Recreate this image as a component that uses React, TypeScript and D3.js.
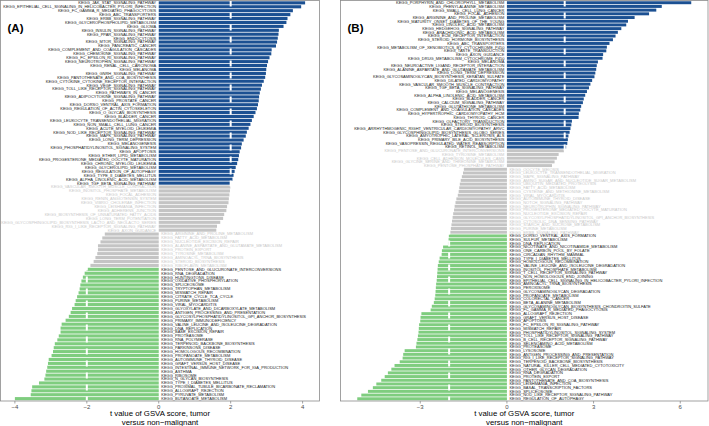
import React from "react";
import * as d3 from "d3";

const W = 709;
const H = 426;

// ---------- Panel A ----------
const pathwaysA: string[] = [
  "KEGG_JAK_STAT_SIGNALING_PATHWAY",
  "KEGG_EPITHELIAL_CELL_SIGNALING_IN_HELICOBACTER_PYLORI_INFECTION",
  "KEGG_FC_GAMMA_R_MEDIATED_PHAGOCYTOSIS",
  "KEGG_ABC_TRANSPORTERS",
  "KEGG_ERBB_SIGNALING_PATHWAY",
  "KEGG_GLYCEROPHOSPHOLIPID_METABOLISM",
  "KEGG_GLIOMA",
  "KEGG_INSULIN_SIGNALING_PATHWAY",
  "KEGG_PPAR_SIGNALING_PATHWAY",
  "KEGG_ENDOCYTOSIS",
  "KEGG_MTOR_SIGNALING_PATHWAY",
  "KEGG_PANCREATIC_CANCER",
  "KEGG_COMPLEMENT_AND_COAGULATION_CASCADES",
  "KEGG_CHEMOKINE_SIGNALING_PATHWAY",
  "KEGG_FC_EPSILON_RI_SIGNALING_PATHWAY",
  "KEGG_NEUROTROPHIN_SIGNALING_PATHWAY",
  "KEGG_RENAL_CELL_CARCINOMA",
  "KEGG_MELANOMA",
  "KEGG_GNRH_SIGNALING_PATHWAY",
  "KEGG_PANTOTHENATE_AND_COA_BIOSYNTHESIS",
  "KEGG_CYTOKINE_CYTOKINE_RECEPTOR_INTERACTION",
  "KEGG_VEGF_SIGNALING_PATHWAY",
  "KEGG_TOLL_LIKE_RECEPTOR_SIGNALING_PATHWAY",
  "KEGG_PATHWAYS_IN_CANCER",
  "KEGG_ADIPOCYTOKINE_SIGNALING_PATHWAY",
  "KEGG_PROSTATE_CANCER",
  "KEGG_DORSO_VENTRAL_AXIS_FORMATION",
  "KEGG_REGULATION_OF_ACTIN_CYTOSKELETON",
  "KEGG_O_GLYCAN_BIOSYNTHESIS",
  "KEGG_BLADDER_CANCER",
  "KEGG_LEUKOCYTE_TRANSENDOTHELIAL_MIGRATION",
  "KEGG_NON_SMALL_CELL_LUNG_CANCER",
  "KEGG_ACUTE_MYELOID_LEUKEMIA",
  "KEGG_NOD_LIKE_RECEPTOR_SIGNALING_PATHWAY",
  "KEGG_MAPK_SIGNALING_PATHWAY",
  "KEGG_LONG_TERM_DEPRESSION",
  "KEGG_MELANOGENESIS",
  "KEGG_PHOSPHATIDYLINOSITOL_SIGNALING_SYSTEM",
  "KEGG_APOPTOSIS",
  "KEGG_ETHER_LIPID_METABOLISM",
  "KEGG_PROGESTERONE_MEDIATED_OOCYTE_MATURATION",
  "KEGG_CHRONIC_MYELOID_LEUKEMIA",
  "KEGG_GLYCEROLIPID_METABOLISM",
  "KEGG_REGULATION_OF_AUTOPHAGY",
  "KEGG_TYPE_II_DIABETES_MELLITUS",
  "KEGG_ALPHA_LINOLENIC_ACID_METABOLISM",
  "KEGG_TGF_BETA_SIGNALING_PATHWAY",
  "KEGG_VASCULAR_SMOOTH_MUSCLE_CONTRACTION",
  "KEGG_INOSITOL_PHOSPHATE_METABOLISM",
  "KEGG_FOCAL_ADHESION",
  "KEGG_RENIN_ANGIOTENSIN_SYSTEM",
  "KEGG_VIBRIO_CHOLERAE_INFECTION",
  "KEGG_LEISHMANIA_INFECTION",
  "KEGG_ADHERENS_JUNCTION",
  "KEGG_BIOSYNTHESIS_OF_UNSATURATED_FATTY_ACIDS",
  "KEGG_LONG_TERM_POTENTIATION",
  "KEGG_GLYCOSPHINGOLIPID_BIOSYNTHESIS_LACTO_AND_NEOLACTO_SERIES",
  "KEGG_RIG_I_LIKE_RECEPTOR_SIGNALING_PATHWAY",
  "KEGG_AXON_GUIDANCE",
  "KEGG_ARGININE_AND_PROLINE_METABOLISM",
  "KEGG_FATTY_ACID_METABOLISM",
  "KEGG_NUCLEOTIDE_EXCISION_REPAIR",
  "KEGG_ALANINE_ASPARTATE_AND_GLUTAMATE_METABOLISM",
  "KEGG_PROTEIN_EXPORT",
  "KEGG_TYROSINE_METABOLISM",
  "KEGG_AMINOACYL_TRNA_BIOSYNTHESIS",
  "KEGG_STEROID_BIOSYNTHESIS",
  "KEGG_RIBOFLAVIN_METABOLISM",
  "KEGG_PENTOSE_AND_GLUCURONATE_INTERCONVERSIONS",
  "KEGG_RNA_DEGRADATION",
  "KEGG_HUNTINGTONS_DISEASE",
  "KEGG_OXIDATIVE_PHOSPHORYLATION",
  "KEGG_SPLICEOSOME",
  "KEGG_TRYPTOPHAN_METABOLISM",
  "KEGG_MISMATCH_REPAIR",
  "KEGG_CITRATE_CYCLE_TCA_CYCLE",
  "KEGG_PURINE_METABOLISM",
  "KEGG_VIRAL_MYOCARDITIS",
  "KEGG_GLYOXYLATE_AND_DICARBOXYLATE_METABOLISM",
  "KEGG_ANTIGEN_PROCESSING_AND_PRESENTATION",
  "KEGG_GLYCOSYLPHOSPHATIDYLINOSITOL_GPI_ANCHOR_BIOSYNTHESIS",
  "KEGG_PRIMARY_IMMUNODEFICIENCY",
  "KEGG_VALINE_LEUCINE_AND_ISOLEUCINE_DEGRADATION",
  "KEGG_DNA_REPLICATION",
  "KEGG_BASE_EXCISION_REPAIR",
  "KEGG_PROTEASOME",
  "KEGG_RNA_POLYMERASE",
  "KEGG_TERPENOID_BACKBONE_BIOSYNTHESIS",
  "KEGG_PARKINSONS_DISEASE",
  "KEGG_HOMOLOGOUS_RECOMBINATION",
  "KEGG_PROPANOATE_METABOLISM",
  "KEGG_AUTOIMMUNE_THYROID_DISEASE",
  "KEGG_GRAFT_VERSUS_HOST_DISEASE",
  "KEGG_INTESTINAL_IMMUNE_NETWORK_FOR_IGA_PRODUCTION",
  "KEGG_ASTHMA",
  "KEGG_RIBOSOME",
  "KEGG_N_GLYCAN_BIOSYNTHESIS",
  "KEGG_TYPE_I_DIABETES_MELLITUS",
  "KEGG_PROXIMAL_TUBULE_BICARBONATE_RECLAMATION",
  "KEGG_ALLOGRAFT_REJECTION",
  "KEGG_PYRUVATE_METABOLISM",
  "KEGG_BUTANOATE_METABOLISM",
];

const tValuesA: number[] = [
  4.07, 3.96, 3.73, 3.66, 3.58, 3.55, 3.47, 3.34, 3.33, 3.31,
  3.29, 3.26, 3.14, 3.13, 3.08, 3.04, 3.01, 2.99, 2.98, 2.96,
  2.92, 2.87, 2.84, 2.81, 2.79, 2.78, 2.76, 2.73, 2.69, 2.64,
  2.59, 2.55, 2.5, 2.45, 2.42, 2.36, 2.31, 2.29, 2.25, 2.23,
  2.21, 2.18, 2.14, 2.11, 2.08, 2.05, 2.01,
  1.99, 1.98, 1.97, 1.95, 1.94, 1.9, 1.88, 1.82, 1.79, 1.71, 1.62, 1.6,
  -1.5, -1.57, -1.62, -1.69, -1.69, -1.71, -1.76, -1.81, -1.9,
  -2.01, -2.06, -2.11, -2.15, -2.18, -2.2, -2.23, -2.27, -2.31, -2.34,
  -2.41, -2.45, -2.5, -2.59, -2.7, -2.73, -2.73, -2.78, -2.82, -2.89,
  -2.92, -2.94, -2.98, -3.06, -3.08, -3.1, -3.13, -3.15, -3.18, -3.33,
  -3.52, -3.54, -3.56, -4.0,
];

const ticksA: number[] = [-4, -2, 0, 2, 4];

// ---------- Panel B ----------
const pathwaysB: string[] = [
  "KEGG_PORPHYRIN_AND_CHLOROPHYLL_METABOLISM",
  "KEGG_PHENYLALANINE_METABOLISM",
  "KEGG_SMALL_CELL_LUNG_CANCER",
  "KEGG_FOCAL_ADHESION",
  "KEGG_ARGININE_AND_PROLINE_METABOLISM",
  "KEGG_MATURITY_ONSET_DIABETES_OF_THE_YOUNG",
  "KEGG_LINOLEIC_ACID_METABOLISM",
  "KEGG_HEDGEHOG_SIGNALING_PATHWAY",
  "KEGG_ARACHIDONIC_ACID_METABOLISM",
  "KEGG_ECM_RECEPTOR_INTERACTION",
  "KEGG_STEROID_HORMONE_BIOSYNTHESIS",
  "KEGG_ABC_TRANSPORTERS",
  "KEGG_METABOLISM_OF_XENOBIOTICS_BY_CYTOCHROME_P450",
  "KEGG_TASTE_TRANSDUCTION",
  "KEGG_AXON_GUIDANCE",
  "KEGG_DRUG_METABOLISM_CYTOCHROME_P450",
  "KEGG_MELANOMA",
  "KEGG_NEUROACTIVE_LIGAND_RECEPTOR_INTERACTION",
  "KEGG_ALANINE_ASPARTATE_AND_GLUTAMATE_METABOLISM",
  "KEGG_LONG_TERM_DEPRESSION",
  "KEGG_GLYCOSAMINOGLYCAN_BIOSYNTHESIS_KERATAN_SULFATE",
  "KEGG_DILATED_CARDIOMYOPATHY",
  "KEGG_VASCULAR_SMOOTH_MUSCLE_CONTRACTION",
  "KEGG_TGF_BETA_SIGNALING_PATHWAY",
  "KEGG_MELANOGENESIS",
  "KEGG_ALPHA_LINOLENIC_ACID_METABOLISM",
  "KEGG_BLADDER_CANCER",
  "KEGG_CALCIUM_SIGNALING_PATHWAY",
  "KEGG_GLUTATHIONE_METABOLISM",
  "KEGG_COMPLEMENT_AND_COAGULATION_CASCADES",
  "KEGG_HYPERTROPHIC_CARDIOMYOPATHY_HCM",
  "KEGG_THYROID_CANCER",
  "KEGG_OLFACTORY_TRANSDUCTION",
  "KEGG_STEROID_BIOSYNTHESIS",
  "KEGG_ARRHYTHMOGENIC_RIGHT_VENTRICULAR_CARDIOMYOPATHY_ARVC",
  "KEGG_GLYCOSPHINGOLIPID_BIOSYNTHESIS_GLOBO_SERIES",
  "KEGG_AMYOTROPHIC_LATERAL_SCLEROSIS_ALS",
  "KEGG_PRIMARY_BILE_ACID_BIOSYNTHESIS",
  "KEGG_VASOPRESSIN_REGULATED_WATER_REABSORPTION",
  "KEGG_RETINOL_METABOLISM",
  "KEGG_PENTOSE_AND_GLUCURONATE_INTERCONVERSIONS",
  "KEGG_TYROSINE_METABOLISM",
  "KEGG_CELL_ADHESION_MOLECULES_CAMS",
  "KEGG_GLYCINE_SERINE_AND_THREONINE_METABOLISM",
  "KEGG_PENTOSE_PHOSPHATE_PATHWAY",
  "KEGG_OOCYTE_MEIOSIS",
  "KEGG_LEUKOCYTE_TRANSENDOTHELIAL_MIGRATION",
  "KEGG_MAPK_SIGNALING_PATHWAY",
  "KEGG_AMINO_SUGAR_AND_NUCLEOTIDE_SUGAR_METABOLISM",
  "KEGG_UBIQUITIN_MEDIATED_PROTEOLYSIS",
  "KEGG_FATTY_ACID_METABOLISM",
  "KEGG_CYSTEINE_AND_METHIONINE_METABOLISM",
  "KEGG_VIRAL_MYOCARDITIS",
  "KEGG_AUTOIMMUNE_THYROID_DISEASE",
  "KEGG_NOTCH_SIGNALING_PATHWAY",
  "KEGG_NEUROTROPHIN_SIGNALING_PATHWAY",
  "KEGG_PROGESTERONE_MEDIATED_OOCYTE_MATURATION",
  "KEGG_NUCLEOTIDE_EXCISION_REPAIR",
  "KEGG_GLYCOSYLPHOSPHATIDYLINOSITOL_GPI_ANCHOR_BIOSYNTHESIS",
  "KEGG_CYTOSOLIC_DNA_SENSING_PATHWAY",
  "KEGG_STARCH_AND_SUCROSE_METABOLISM",
  "KEGG_PURINE_METABOLISM",
  "KEGG_ERBB_SIGNALING_PATHWAY",
  "KEGG_DORSO_VENTRAL_AXIS_FORMATION",
  "KEGG_SULFUR_METABOLISM",
  "KEGG_DNA_REPLICATION",
  "KEGG_NICOTINATE_AND_NICOTINAMIDE_METABOLISM",
  "KEGG_ONE_CARBON_POOL_BY_FOLATE",
  "KEGG_CIRCADIAN_RHYTHM_MAMMAL",
  "KEGG_TYPE_I_DIABETES_MELLITUS",
  "KEGG_HOMOLOGOUS_RECOMBINATION",
  "KEGG_VALINE_LEUCINE_AND_ISOLEUCINE_DEGRADATION",
  "KEGG_INOSITOL_PHOSPHATE_METABOLISM",
  "KEGG_T_CELL_RECEPTOR_SIGNALING_PATHWAY",
  "KEGG_NON_HOMOLOGOUS_END_JOINING",
  "KEGG_EPITHELIAL_CELL_SIGNALING_IN_HELICOBACTER_PYLORI_INFECTION",
  "KEGG_AMINOACYL_TRNA_BIOSYNTHESIS",
  "KEGG_PEROXISOME",
  "KEGG_GLYCOSAMINOGLYCAN_DEGRADATION",
  "KEGG_PROPANOATE_METABOLISM",
  "KEGG_COLORECTAL_CANCER",
  "KEGG_BETA_ALANINE_METABOLISM",
  "KEGG_GLYCOSAMINOGLYCAN_BIOSYNTHESIS_CHONDROITIN_SULFATE",
  "KEGG_FC_GAMMA_R_MEDIATED_PHAGOCYTOSIS",
  "KEGG_ALLOGRAFT_REJECTION",
  "KEGG_GRAFT_VERSUS_HOST_DISEASE",
  "KEGG_APOPTOSIS",
  "KEGG_FC_EPSILON_RI_SIGNALING_PATHWAY",
  "KEGG_MISMATCH_REPAIR",
  "KEGG_PHOSPHATIDYLINOSITOL_SIGNALING_SYSTEM",
  "KEGG_TOLL_LIKE_RECEPTOR_SIGNALING_PATHWAY",
  "KEGG_B_CELL_RECEPTOR_SIGNALING_PATHWAY",
  "KEGG_SELENOAMINO_ACID_METABOLISM",
  "KEGG_PROTEASOME",
  "KEGG_LYSOSOME",
  "KEGG_ANTIGEN_PROCESSING_AND_PRESENTATION",
  "KEGG_RIG_I_LIKE_RECEPTOR_SIGNALING_PATHWAY",
  "KEGG_TERPENOID_BACKBONE_BIOSYNTHESIS",
  "KEGG_NATURAL_KILLER_CELL_MEDIATED_CYTOTOXICITY",
  "KEGG_OTHER_GLYCAN_DEGRADATION",
  "KEGG_RNA_DEGRADATION",
  "KEGG_PROTEIN_EXPORT",
  "KEGG_PANTOTHENATE_AND_COA_BIOSYNTHESIS",
  "KEGG_LEISHMANIA_INFECTION",
  "KEGG_BASAL_TRANSCRIPTION_FACTORS",
  "KEGG_SPLICEOSOME",
  "KEGG_NOD_LIKE_RECEPTOR_SIGNALING_PATHWAY",
  "KEGG_REGULATION_OF_AUTOPHAGY",
];

const tValuesB: number[] = [
  6.38, 5.36, 5.17, 4.92, 4.42, 4.19, 4.13, 3.96, 3.84, 3.76,
  3.67, 3.55, 3.46, 3.44, 3.33, 3.31, 3.15, 3.11, 3.09, 3.06,
  3.03, 2.95, 2.89, 2.84, 2.77, 2.71, 2.66, 2.63, 2.57, 2.54,
  2.49, 2.48, 2.25, 2.23, 2.2, 2.17, 2.13, 2.11, 2.09, 2.05,
  1.97, 1.79, 1.73, 1.65, 1.56,
  -1.49, -1.52, -1.56, -1.6, -1.63, -1.65, -1.67, -1.7, -1.75, -1.78,
  -1.81, -1.83, -1.86, -1.88, -1.9, -1.92, -1.94, -1.96,
  -2.01, -2.02, -2.04, -2.21, -2.25, -2.26, -2.33, -2.36, -2.39, -2.4,
  -2.41, -2.42, -2.43, -2.45, -2.46, -2.47, -2.48, -2.5, -2.53, -2.6,
  -2.64, -2.96, -2.99, -3.0, -3.04, -3.05, -3.06, -3.08, -3.1, -3.13,
  -3.15, -3.54, -3.59, -3.61, -3.71, -3.89, -4.0, -4.12, -4.23, -4.35,
  -4.52, -4.64, -4.81, -5.04, -5.18,
];

const ticksB: number[] = [-3, 0, 3, 6];

const axisTitle: string[] = ["t value of GSVA score, tumor", "versus non\u2212malignant"];

const COL_UP = "#1B5092";
const COL_DOWN = "#7FCD7F";
const COL_NS = "#C4C4C4";
const FONT = "'Liberation Sans', Arial, Helvetica, sans-serif";

const PLOT_TOP = 0.5;
const PLOT_BOTTOM = 401;
// labels are drawn at a readable base size and scaled down (avoids minimum font size)
const LABEL_BASE = 8;
const LABEL_SCALE = 0.5;

type PanelProps = {
  names: string[];
  values: number[];
  ticks: number[];
  domain: [number, number];
  range: [number, number];
  tag: string;
};

function Panel({ names, values, ticks, domain, range, tag }: PanelProps) {
  const x = d3.scaleLinear().domain(domain).range(range);
  const y = d3
    .scaleBand<number>()
    .domain(d3.range(names.length))
    .range([PLOT_TOP, PLOT_BOTTOM])
    .paddingInner(0.2)
    .paddingOuter(0.2);
  const x0 = x(0);
  const bw = y.bandwidth();
  const color = (v: number) => (v >= 2 ? COL_UP : v <= -2 ? COL_DOWN : COL_NS);
  const cx = (range[0] + range[1]) / 2;
  return (
    <g>
      <rect
        x={range[0]}
        y={PLOT_TOP}
        width={range[1] - range[0]}
        height={PLOT_BOTTOM - PLOT_TOP}
        fill="#fff"
      />
      {values.map((v, i) => (
        <rect
          key={"b" + i}
          x={Math.min(x(v), x0)}
          y={y(i)}
          width={Math.abs(x(v) - x0)}
          height={bw}
          fill={color(v)}
        />
      ))}
      {[-2, 2].map((t) => (
        <line
          key={"d" + t}
          x1={x(t)}
          x2={x(t)}
          y1={PLOT_TOP}
          y2={PLOT_BOTTOM}
          stroke="#fff"
          strokeWidth={2}
          strokeDasharray="6,6"
        />
      ))}
      {names.map((n, i) => {
        const v = values[i];
        const pos = v > 0;
        const sig = Math.abs(v) >= 2;
        const tx = pos ? x0 - 2.5 : x0 + 2.5;
        const ty = (y(i) as number) + bw / 2;
        return (
          <text
            key={"t" + i}
            transform={`translate(${tx},${ty}) scale(${LABEL_SCALE})`}
            dy="0.35em"
            textAnchor={pos ? "end" : "start"}
            fontSize={LABEL_BASE}
            fontFamily={FONT}
            fill={sig ? "#1a1a1a" : "#C8C8C8"}
          >
            {n}
          </text>
        );
      })}
      <rect
        x={range[0]}
        y={PLOT_TOP}
        width={range[1] - range[0]}
        height={PLOT_BOTTOM - PLOT_TOP}
        fill="none"
        stroke="#8a8a8a"
        strokeWidth={0.8}
      />
      {ticks.map((t) => (
        <g key={"k" + t}>
          <line
            x1={x(t)}
            x2={x(t)}
            y1={PLOT_BOTTOM}
            y2={PLOT_BOTTOM + 2.5}
            stroke="#8a8a8a"
            strokeWidth={0.8}
          />
          <text
            x={x(t)}
            y={PLOT_BOTTOM + 7.5}
            textAnchor="middle"
            fontSize={6}
            fontFamily={FONT}
            fill="#4d4d4d"
          >
            {t < 0 ? "\u2212" + Math.abs(t) : String(t)}
          </text>
        </g>
      ))}
      {axisTitle.map((s, i) => (
        <text
          key={"a" + i}
          x={cx}
          y={416.2 + i * 8.6}
          textAnchor="middle"
          fontSize={7.8}
          fontFamily={FONT}
          fill="#000"
        >
          {s}
        </text>
      ))}
      <text
        x={range[0] + 7}
        y={31.5}
        fontSize={11.5}
        fontWeight="bold"
        fontFamily={FONT}
        fill="#000"
      >
        {tag}
      </text>
    </g>
  );
}

export default function App() {
  return (
    <svg
      width={W}
      height={H}
      viewBox={`0 0 ${W} ${H}`}
      style={{ position: "fixed", left: 0, top: 0, background: "#fff" }}
    >
      <rect x={0} y={0} width={W} height={H} fill="#fff" />
      <Panel
        names={pathwaysA}
        values={tValuesA}
        ticks={ticksA}
        domain={[-4.4, 4.47]}
        range={[0.5, 319.5]}
        tag="(A)"
      />
      <Panel
        names={pathwaysB}
        values={tValuesB}
        ticks={ticksB}
        domain={[-5.76, 6.96]}
        range={[340.5, 708]}
        tag="(B)"
      />
    </svg>
  );
}
